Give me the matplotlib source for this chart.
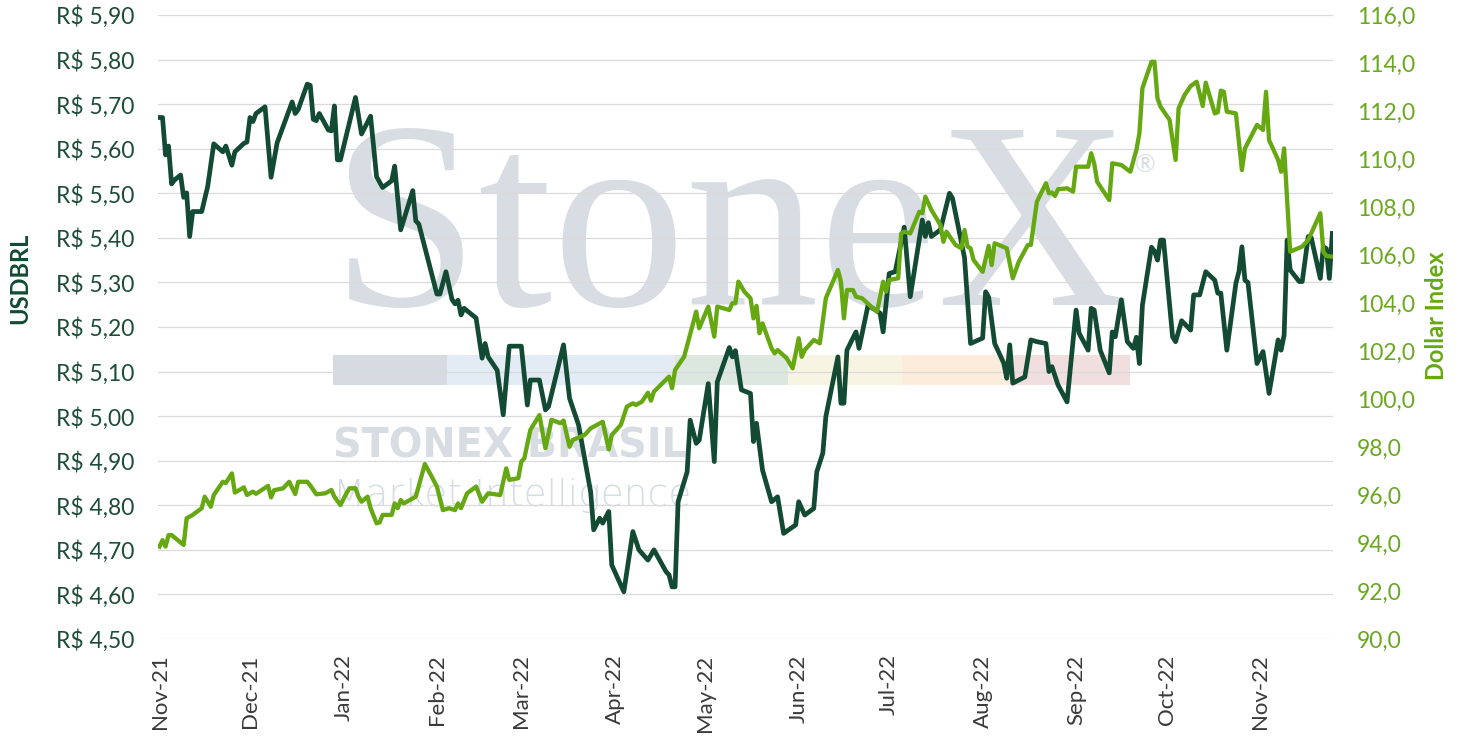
import matplotlib
matplotlib.use("Agg")
import matplotlib.pyplot as plt
import matplotlib.dates as mdates
from matplotlib.patches import Rectangle
from matplotlib.ticker import FuncFormatter, MultipleLocator
import pandas as pd

# USDBRL (left axis)
usd_dates = [
    "2021-11-01", "2021-11-02", "2021-11-03", "2021-11-04", "2021-11-05", "2021-11-06", "2021-11-08",
    "2021-11-09", "2021-11-10", "2021-11-11", "2021-11-12", "2021-11-15", "2021-11-17", "2021-11-19",
    "2021-11-22", "2021-11-23", "2021-11-25", "2021-11-26", "2021-11-29", "2021-11-30",
    "2021-12-01", "2021-12-02", "2021-12-03", "2021-12-06", "2021-12-08", "2021-12-10", "2021-12-15",
    "2021-12-16", "2021-12-17", "2021-12-20", "2021-12-21", "2021-12-22", "2021-12-23", "2021-12-24",
    "2021-12-27", "2021-12-28", "2021-12-29", "2021-12-30", "2021-12-31",
    "2022-01-05", "2022-01-07", "2022-01-10", "2022-01-12", "2022-01-14", "2022-01-17", "2022-01-18",
    "2022-01-20", "2022-01-24", "2022-01-25", "2022-01-26",
    "2022-02-01", "2022-02-02", "2022-02-04", "2022-02-06", "2022-02-07", "2022-02-08", "2022-02-09",
    "2022-02-10", "2022-02-14", "2022-02-16", "2022-02-17", "2022-02-18", "2022-02-21", "2022-02-23",
    "2022-02-25",
    "2022-03-01", "2022-03-03", "2022-03-04", "2022-03-07", "2022-03-09", "2022-03-10", "2022-03-15",
    "2022-03-17", "2022-03-20", "2022-03-22", "2022-03-24", "2022-03-25", "2022-03-27", "2022-03-28",
    "2022-03-30", "2022-03-31",
    "2022-04-04", "2022-04-07", "2022-04-09", "2022-04-12", "2022-04-14", "2022-04-18", "2022-04-19",
    "2022-04-20", "2022-04-21", "2022-04-22", "2022-04-25", "2022-04-26", "2022-04-28", "2022-04-29",
    "2022-05-02", "2022-05-04", "2022-05-05", "2022-05-09", "2022-05-10", "2022-05-11", "2022-05-13",
    "2022-05-16", "2022-05-17", "2022-05-18", "2022-05-20", "2022-05-23", "2022-05-25", "2022-05-27",
    "2022-05-31",
    "2022-06-01", "2022-06-03", "2022-06-06", "2022-06-07", "2022-06-09", "2022-06-10", "2022-06-14",
    "2022-06-15", "2022-06-16", "2022-06-17", "2022-06-20", "2022-06-21", "2022-06-24", "2022-06-28",
    "2022-06-29",
    "2022-07-01", "2022-07-03", "2022-07-06", "2022-07-08", "2022-07-12", "2022-07-13", "2022-07-14",
    "2022-07-15", "2022-07-18", "2022-07-21", "2022-07-22", "2022-07-26", "2022-07-28",
    "2022-08-01", "2022-08-02", "2022-08-03", "2022-08-05", "2022-08-08", "2022-08-09", "2022-08-10",
    "2022-08-11", "2022-08-15", "2022-08-17", "2022-08-19", "2022-08-22", "2022-08-23", "2022-08-24",
    "2022-08-26", "2022-08-29",
    "2022-09-01", "2022-09-02", "2022-09-05", "2022-09-06", "2022-09-07", "2022-09-09", "2022-09-12",
    "2022-09-13", "2022-09-14", "2022-09-16", "2022-09-18", "2022-09-20", "2022-09-21", "2022-09-22",
    "2022-09-23", "2022-09-26", "2022-09-27", "2022-09-28", "2022-09-29", "2022-09-30",
    "2022-10-03", "2022-10-04", "2022-10-06", "2022-10-09", "2022-10-10", "2022-10-12", "2022-10-14",
    "2022-10-17", "2022-10-18", "2022-10-19", "2022-10-21", "2022-10-24", "2022-10-25", "2022-10-26",
    "2022-10-27", "2022-10-28", "2022-10-31",
    "2022-11-02", "2022-11-04", "2022-11-07", "2022-11-08", "2022-11-09", "2022-11-10", "2022-11-11",
    "2022-11-14", "2022-11-15", "2022-11-17", "2022-11-18", "2022-11-21", "2022-11-22", "2022-11-23",
    "2022-11-24", "2022-11-25",
]
usd_values = [
    5.670, 5.670, 5.586, 5.606, 5.521, 5.530, 5.541,
    5.491, 5.501, 5.403, 5.459, 5.459, 5.516, 5.611,
    5.593, 5.606, 5.563, 5.593, 5.612, 5.615,
    5.670, 5.661, 5.679, 5.694, 5.536, 5.613, 5.705,
    5.679, 5.688, 5.745, 5.742, 5.666, 5.663, 5.679,
    5.642, 5.640, 5.696, 5.575, 5.575,
    5.715, 5.633, 5.673, 5.537, 5.513, 5.528, 5.561,
    5.418, 5.506, 5.438, 5.431,
    5.274, 5.274, 5.324, 5.262, 5.252, 5.260, 5.227,
    5.242, 5.220, 5.130, 5.163, 5.133, 5.103, 5.003,
    5.157,
    5.157, 5.025, 5.081, 5.081, 5.014, 5.021, 5.160,
    5.040, 4.980, 4.905, 4.830, 4.745, 4.771, 4.760,
    4.786, 4.666,
    4.606, 4.741, 4.700, 4.677, 4.700, 4.651, 4.644,
    4.617, 4.617, 4.808, 4.875, 4.991, 4.939, 4.946,
    5.073, 4.898, 5.077, 5.154, 5.133, 5.147, 5.059,
    5.051, 4.943, 4.984, 4.879, 4.808, 4.819, 4.737,
    4.756,
    4.808, 4.778, 4.793, 4.875, 4.917, 4.999, 5.133,
    5.029, 5.029, 5.148, 5.189, 5.152, 5.249, 5.231,
    5.189,
    5.320, 5.324, 5.424, 5.268, 5.440, 5.403, 5.434,
    5.403, 5.418, 5.500, 5.489, 5.355, 5.163,
    5.175, 5.279, 5.267, 5.163, 5.119, 5.085, 5.160,
    5.074, 5.088, 5.171, 5.167, 5.163, 5.100, 5.111,
    5.070, 5.032,
    5.238, 5.186, 5.148, 5.242, 5.238, 5.148, 5.097,
    5.189, 5.178, 5.261, 5.167, 5.152, 5.177, 5.118,
    5.249, 5.379, 5.370, 5.350, 5.395, 5.395,
    5.178, 5.167, 5.214, 5.193, 5.272, 5.272, 5.324,
    5.305, 5.276, 5.276, 5.148, 5.298, 5.324, 5.380,
    5.305, 5.300, 5.118,
    5.145, 5.051, 5.171, 5.148, 5.182, 5.395, 5.328,
    5.302, 5.302, 5.403, 5.400, 5.309, 5.380, 5.376,
    5.309, 5.410,
]

# Dollar Index (right axis)
dxy_dates = [
    "2021-11-01", "2021-11-02", "2021-11-03", "2021-11-04", "2021-11-05", "2021-11-09", "2021-11-10",
    "2021-11-12", "2021-11-15", "2021-11-16", "2021-11-18", "2021-11-19", "2021-11-22", "2021-11-23",
    "2021-11-25", "2021-11-26", "2021-11-29", "2021-11-30",
    "2021-12-02", "2021-12-03", "2021-12-07", "2021-12-08", "2021-12-09", "2021-12-12", "2021-12-14",
    "2021-12-16", "2021-12-17", "2021-12-20", "2021-12-21", "2021-12-23", "2021-12-26", "2021-12-28",
    "2021-12-29", "2021-12-31",
    "2022-01-02", "2022-01-03", "2022-01-05", "2022-01-06", "2022-01-07", "2022-01-09", "2022-01-10",
    "2022-01-12", "2022-01-13", "2022-01-14", "2022-01-17", "2022-01-18", "2022-01-19", "2022-01-20",
    "2022-01-21", "2022-01-25", "2022-01-28", "2022-01-30",
    "2022-02-01", "2022-02-03", "2022-02-05", "2022-02-07", "2022-02-08", "2022-02-09", "2022-02-11",
    "2022-02-14", "2022-02-16", "2022-02-18", "2022-02-22", "2022-02-24", "2022-02-25", "2022-02-28",
    "2022-03-01", "2022-03-02", "2022-03-04", "2022-03-07", "2022-03-09", "2022-03-11", "2022-03-14",
    "2022-03-15", "2022-03-17", "2022-03-18", "2022-03-22", "2022-03-24", "2022-03-28", "2022-03-30",
    "2022-03-31",
    "2022-04-03", "2022-04-05", "2022-04-07", "2022-04-08", "2022-04-10", "2022-04-12", "2022-04-13",
    "2022-04-14", "2022-04-19", "2022-04-20", "2022-04-21", "2022-04-24", "2022-04-28", "2022-04-29",
    "2022-05-02", "2022-05-04", "2022-05-05", "2022-05-09", "2022-05-10", "2022-05-11", "2022-05-12",
    "2022-05-14", "2022-05-16", "2022-05-17", "2022-05-18", "2022-05-19", "2022-05-20", "2022-05-23",
    "2022-05-24", "2022-05-25", "2022-05-28", "2022-05-30",
    "2022-06-01", "2022-06-02", "2022-06-03", "2022-06-06", "2022-06-08", "2022-06-10", "2022-06-14",
    "2022-06-15", "2022-06-16", "2022-06-17", "2022-06-19", "2022-06-20", "2022-06-22", "2022-06-25",
    "2022-06-27", "2022-06-29", "2022-06-30",
    "2022-07-01", "2022-07-04", "2022-07-05", "2022-07-06", "2022-07-08", "2022-07-11", "2022-07-12",
    "2022-07-13", "2022-07-15", "2022-07-18", "2022-07-19", "2022-07-20", "2022-07-23", "2022-07-25",
    "2022-07-26", "2022-07-27", "2022-07-28", "2022-07-29",
    "2022-08-01", "2022-08-03", "2022-08-04", "2022-08-05", "2022-08-09", "2022-08-11", "2022-08-13",
    "2022-08-16", "2022-08-17", "2022-08-19", "2022-08-22", "2022-08-23", "2022-08-24", "2022-08-25",
    "2022-08-26", "2022-08-29", "2022-08-31",
    "2022-09-01", "2022-09-05", "2022-09-06", "2022-09-07", "2022-09-08", "2022-09-12", "2022-09-13",
    "2022-09-16", "2022-09-19", "2022-09-21", "2022-09-22", "2022-09-23", "2022-09-26", "2022-09-27",
    "2022-09-28", "2022-09-29",
    "2022-10-02", "2022-10-04", "2022-10-05", "2022-10-07", "2022-10-09", "2022-10-11", "2022-10-13",
    "2022-10-14", "2022-10-17", "2022-10-18", "2022-10-19", "2022-10-20", "2022-10-21", "2022-10-24",
    "2022-10-26", "2022-10-27", "2022-10-31",
    "2022-11-02", "2022-11-03", "2022-11-04", "2022-11-07", "2022-11-08", "2022-11-09", "2022-11-11",
    "2022-11-15", "2022-11-17", "2022-11-21", "2022-11-22", "2022-11-23", "2022-11-25",
]
dxy_values = [
    93.85, 94.12, 93.85, 94.33, 94.33, 93.92, 95.03,
    95.17, 95.45, 95.93, 95.51, 96.00, 96.55, 96.50,
    96.90, 96.10, 96.32, 96.00,
    96.14, 96.05, 96.38, 95.90, 96.20, 96.28, 96.55,
    96.04, 96.55, 96.55, 96.40, 96.03, 96.07, 96.21,
    95.93, 95.58,
    96.07, 96.28, 96.28, 95.93, 95.72, 95.93, 95.45,
    94.82, 94.86, 95.17, 95.17, 95.65, 95.45, 95.79,
    95.65, 95.93, 97.29, 96.83,
    96.35, 95.37, 95.45, 95.37, 95.65, 95.45, 96.07,
    96.35, 95.72, 96.07, 96.00, 97.11, 96.63, 96.70,
    97.39, 97.53, 98.71, 99.33, 97.95, 99.13, 98.99,
    99.10, 98.01, 98.29, 98.50, 98.78, 99.05, 97.90,
    98.50,
    98.92, 99.68, 99.82, 99.75, 99.89, 100.26, 99.93,
    100.31, 100.93, 100.45, 101.21, 101.76, 103.64, 102.95,
    103.85, 102.60, 103.85, 103.71, 103.99, 103.99, 104.89,
    104.47, 104.20, 103.36, 103.88, 102.74, 103.15, 102.11,
    101.90, 102.04, 101.70, 101.28,
    102.53, 101.76, 102.04, 102.46, 102.32, 104.20, 105.38,
    104.89, 103.36, 104.54, 104.54, 104.26, 104.20, 103.85,
    103.64, 104.89, 104.47,
    104.96, 105.03, 106.90, 106.97, 106.90, 107.80, 107.74,
    108.43, 107.88, 107.25, 106.55, 106.97, 106.42, 106.28,
    107.04, 106.35, 106.28, 105.79,
    105.30, 106.38, 105.58, 106.49, 106.28, 105.03, 105.72,
    106.42, 106.42, 108.22, 108.99, 108.57, 108.60, 108.46,
    108.74, 108.78, 108.64,
    109.68, 109.68, 110.24, 109.82, 109.05, 108.29, 109.82,
    109.75, 109.47, 110.38, 111.07, 112.95, 114.05, 114.05,
    112.53, 112.18,
    111.63, 109.96, 112.11, 112.67, 113.04, 113.22, 112.21,
    113.18, 111.90, 111.95, 112.85, 112.80, 111.97, 111.90,
    109.54, 110.44, 111.42,
    111.21, 112.80, 110.79, 109.96, 109.47, 110.44, 106.14,
    106.35, 106.63, 107.74, 106.14, 105.96, 105.93,
]

DARK = "#134a33"
LIGHT = "#66a812"
WM = "#d8dde4"

plt.rcParams["font.family"] = ["Lato", "DejaVu Sans"]

W, H = 1461, 741
fig = plt.figure(figsize=(W / 100, H / 100), dpi=100)
fig.patch.set_facecolor("white")

# watermark (behind the axes)
fig.text(330 / W, 1 - 305 / H, "StoneX", family="Liberation Serif", fontsize=192,
         color=WM, ha="left", va="baseline", zorder=-5)
fig.text(1145 / W, 1 - 165 / H, "®", fontsize=18, color=WM, ha="center", va="center", zorder=-5)
bands = [(333, 447, "#d6dbe1"), (447, 675, "#e3ebf4"), (675, 788, "#dce7e0"),
         (788, 902, "#f8f4e3"), (902, 1011, "#fcecdb"), (1011, 1130, "#f1dedf")]
for x0, x1, c in bands:
    fig.add_artist(Rectangle((x0 / W, 1 - 385 / H), (x1 - x0) / W, 30 / H,
                             transform=fig.transFigure, color=c, lw=0, zorder=-5))
fig.text(333 / W, 1 - 458 / H, "STONEX BRASIL", family="DejaVu Sans", fontweight="bold",
         fontsize=28.5, color=WM, ha="left", va="baseline", zorder=-5)
fig.text(333 / W, 1 - 506 / H, "Market Intelligence", family="DejaVu Sans", fontweight="light",
         fontsize=27, color=WM, ha="left", va="baseline", zorder=-5)

ax = fig.add_axes([158 / W, 1 - 639 / H, (1333 - 158) / W, (639 - 15) / H])
ax.set_facecolor("none")
ax2 = ax.twinx()

usd_x = pd.to_datetime(usd_dates)
dxy_x = pd.to_datetime(dxy_dates)

ax.plot(usd_x, usd_values, color=DARK, lw=3.4, solid_joinstyle="round", zorder=3)
ax2.plot(dxy_x, dxy_values, color=LIGHT, lw=3.1, solid_joinstyle="round", zorder=3)

ax.set_ylim(4.50, 5.90)
ax.yaxis.set_major_locator(MultipleLocator(0.10))
ax.yaxis.set_major_formatter(FuncFormatter(lambda v, p: "R$ " + f"{v:.2f}".replace(".", ",")))
ax2.set_ylim(90, 116)
ax2.yaxis.set_major_locator(MultipleLocator(2))
ax2.yaxis.set_major_formatter(FuncFormatter(lambda v, p: f"{v:.1f}".replace(".", ",")))

x0 = pd.Timestamp("2021-11-01") - pd.Timedelta(hours=12)
x1 = pd.Timestamp("2022-11-25") + pd.Timedelta(hours=5)
ax.set_xlim(x0, x1)
ax.xaxis.set_major_locator(mdates.MonthLocator())
ax.xaxis.set_major_formatter(mdates.DateFormatter("%b-%y"))

ax.grid(axis="y", color="#dadada", lw=0.9)
ax.grid(axis="x", visible=False)
ax.set_axisbelow(True)
for a in (ax, ax2):
    for s in a.spines.values():
        s.set_visible(False)

ax.tick_params(axis="y", length=0, pad=17, labelsize=16.5, labelcolor="#1d4d39")
ax2.tick_params(axis="y", length=0, pad=17, labelsize=16.5, labelcolor="#6aa820")
ax.tick_params(axis="x", length=0, pad=11, labelsize=16, labelcolor="#3a3a3a", labelrotation=90)

fig.text(20 / W, 1 - 278 / H, "USDBRL", rotation=90, fontsize=17, fontweight="bold",
         color=DARK, ha="center", va="center")
fig.text(1437 / W, 1 - 316 / H, "Dollar Index", rotation=90, fontsize=17, fontweight="bold",
         color=LIGHT, ha="center", va="center")

fig.savefig("out.png", dpi=100, facecolor="white")
